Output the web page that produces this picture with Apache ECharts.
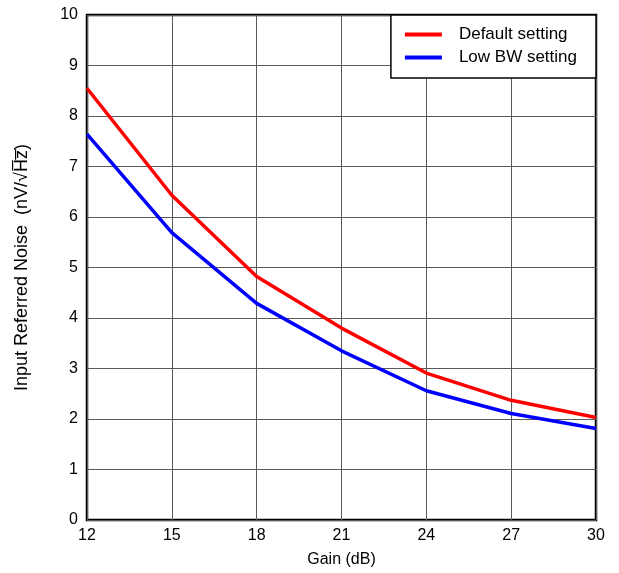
<!DOCTYPE html>
<html>
<head>
<meta charset="utf-8">
<script src="https://cdn.jsdelivr.net/npm/echarts@6/dist/echarts.min.js"></script>
<style>
  html, body { margin: 0; padding: 0; background: #fff; }
  #chart { width: 619px; height: 573px; }
</style>
</head>
<body>
<div id="chart"></div>
<script>
// Input-referred noise versus gain for two bandwidth settings
const gainDb = [12, 15, 18, 21, 24, 27, 30];
const defaultSetting = [8.55, 6.43, 4.82, 3.80, 2.91, 2.37, 2.03];
const lowBwSetting = [7.64, 5.69, 4.29, 3.35, 2.56, 2.11, 1.81];
const seriesNames = ['Default setting', 'Low BW setting'];
const xAxisTitle = 'Gain (dB)';
const yAxisTitle = 'Input Referred Noise  (nV/\u221AH\u0305z\u0305)';

const pairs = (xs, ys) => xs.map((x, i) => [x, ys[i]]);
const font = 'Liberation Sans, Arial, sans-serif';

const chart = echarts.init(document.getElementById('chart'), null, { renderer: 'canvas' });
chart.setOption({
  animation: false,
  backgroundColor: '#fff',
  textStyle: { fontFamily: font },
  grid: {
    left: 87, right: 23, top: 15, bottom: 53,
    show: true, borderColor: '#000', borderWidth: 2.5, backgroundColor: 'transparent'
  },
  legend: {
    orient: 'vertical',
    right: 23, top: 15,
    backgroundColor: '#fff',
    borderColor: '#000', borderWidth: 1.5, borderRadius: 0,
    padding: [11, 19, 12, 14],
    itemGap: 6,
    itemWidth: 37, itemHeight: 4,
    icon: 'rect',
    textStyle: { fontSize: 17, color: '#000', fontFamily: font, padding: [0, 0, 0, 12] },
    data: seriesNames
  },
  xAxis: {
    type: 'value', min: 12, max: 30, interval: 3,
    name: xAxisTitle, nameLocation: 'middle', nameGap: 32,
    nameTextStyle: { fontSize: 16, color: '#000', fontFamily: font },
    axisLine: { show: false }, axisTick: { show: false },
    axisLabel: { fontSize: 16, color: '#000', margin: 8, fontFamily: font },
    splitLine: { show: true, lineStyle: { color: '#5a5a5a', width: 1 } }
  },
  yAxis: {
    type: 'value', min: 0, max: 10, interval: 1,
    name: yAxisTitle, nameLocation: 'middle', nameGap: 56, nameRotate: 90,
    nameTextStyle: { fontSize: 18, color: '#000', fontFamily: font },
    axisLine: { show: false }, axisTick: { show: false },
    axisLabel: { fontSize: 16, color: '#000', margin: 9, fontFamily: font },
    splitLine: { show: true, lineStyle: { color: '#5a5a5a', width: 1 } }
  },
  series: [
    {
      name: seriesNames[0], type: 'line', data: pairs(gainDb, defaultSetting),
      showSymbol: false, symbol: 'none',
      lineStyle: { color: '#ff0000', width: 3.5 }, itemStyle: { color: '#ff0000' }
    },
    {
      name: seriesNames[1], type: 'line', data: pairs(gainDb, lowBwSetting),
      showSymbol: false, symbol: 'none',
      lineStyle: { color: '#0000ff', width: 3.5 }, itemStyle: { color: '#0000ff' }
    }
  ]
});
</script>
</body>
</html>
